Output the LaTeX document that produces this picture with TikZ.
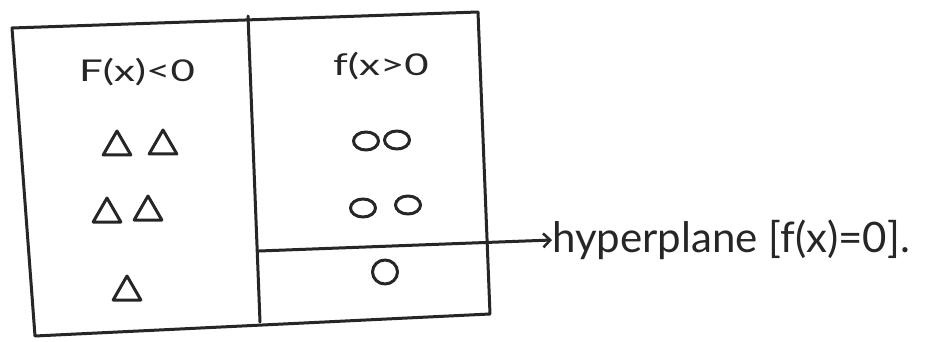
\documentclass[tikz,border=0pt]{standalone}
\usepackage{fontspec}
\setmainfont{Lato}
\usetikzlibrary{arrows.meta,shapes.geometric}
\tikzset{
  pen/.style={line width=3pt, draw=black!85, line cap=round, line join=round},
  lbl/.style={font=\fontsize{30}{32}\selectfont, inner sep=0pt, text=black!85},
  big/.style={font=\fontsize{42}{44}\selectfont, inner sep=0pt, text=black!85},
  tri/.style={pen, regular polygon, regular polygon sides=3, minimum size=32pt, inner sep=0pt},
  ell/.style={pen, ellipse, minimum width=25pt, minimum height=18pt, inner sep=0pt},
  rnd/.style={pen, ellipse, minimum width=25pt, minimum height=24pt, inner sep=0pt}
}
\begin{document}
\begin{tikzpicture}[x=1pt,y=-1pt]
\useasboundingbox[fill=white] (0,0) rectangle (937,342);
% box corners
\coordinate (tl) at (12,28);
\coordinate (tr) at (478,12);
\coordinate (br) at (490,314);
\coordinate (bl) at (35,336);
\coordinate (dt) at (248,16);
\coordinate (db) at (260,322);
\draw[pen] (tl) -- (tr) -- (br) -- (bl) -- cycle;
\draw[pen] (dt) -- (db);
% labels
\node[lbl] (neg) at (137,72) {\scalebox{1.4}[1]{F(x)<0}};
\node[lbl] (pos) at (381,66) {\scalebox{1.4}[1]{f(x>0}};
% triangles
\node[tri] (t1) at (117,147) {};
\node[tri] (t2) at (163,146) {};
\node[tri] (t3) at (107,214) {};
\node[tri] (t4) at (148,212) {};
\node[tri] (t5) at (127,292) {};
% circles
\node[ell] (c1) at (366,141) {};
\node[ell] (c2) at (397,140) {};
\node[ell] (c3) at (363,208) {};
\node[ell] (c4) at (408,205) {};
\node[rnd] (c5) at (385,272) {};
% hyperplane
\coordinate (hs) at (259,251);
\node[big, anchor=west] (hp) at (552,240) {hyperplane [f(x)=0].};
\draw[pen, -{Straight Barb[length=7pt,width=14pt,line width=2.5pt]}] (hs) -- (hp.west);
\end{tikzpicture}
\end{document}
